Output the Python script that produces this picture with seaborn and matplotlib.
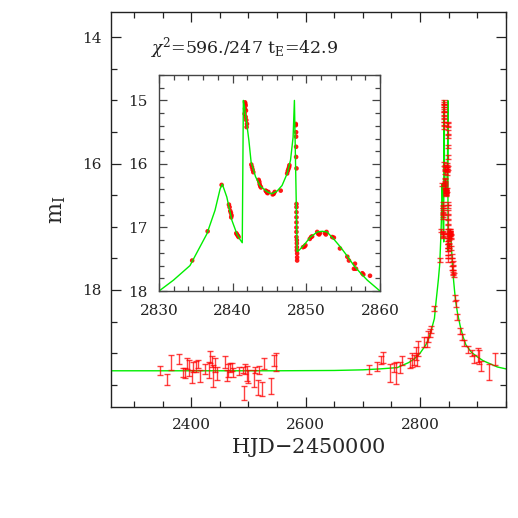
import numpy as np
import pandas as pd
import matplotlib
matplotlib.use("Agg")
import matplotlib.pyplot as plt
from matplotlib.ticker import MultipleLocator
import seaborn as sns

# --- DATA ---
# baseline season, I-band mags with error bars
base_hjd = [2345, 2357, 2365, 2379, 2386, 2390, 2393, 2397, 2401, 2404, 2408, 2412, 2415,
            2425, 2432, 2433, 2436, 2439, 2442, 2446, 2460, 2462, 2465, 2468, 2471, 2473,
            2484, 2490, 2492, 2494, 2497, 2500, 2509, 2512, 2516, 2519, 2523, 2528, 2539,
            2544, 2549]
base_mag = [19.28, 19.42, 19.15, 19.10, 19.31, 19.32, 19.17, 19.24, 19.37, 19.22, 19.21, 19.17,
            19.36, 19.25, 19.27, 19.06, 19.13, 19.36, 19.19, 19.32, 19.14, 19.35, 19.27, 19.23,
            19.22, 19.31, 19.28, 19.27, 19.63, 19.25, 19.32, 19.37, 19.40, 19.27, 19.54, 19.27,
            19.57, 19.17, 19.52, 19.12, 19.14]
base_err = [0.069, 0.084, 0.113, 0.079, 0.074, 0.079, 0.087, 0.13, 0.105, 0.074, 0.09, 0.06,
            0.098, 0.082, 0.13, 0.092, 0.084, 0.17, 0.116, 0.105, 0.09, 0.09, 0.105, 0.066,
            0.07, 0.07, 0.06, 0.053, 0.105, 0.074, 0.12, 0.105, 0.137, 0.053, 0.116, 0.066,
            0.105, 0.087, 0.12, 0.082, 0.137]

# rising and falling wings
wing_hjd = [2710, 2725, 2731, 2735, 2747, 2754, 2758, 2764, 2769, 2783, 2786, 2789, 2792,
            2795, 2796, 2807, 2812, 2814, 2817, 2819, 2825,
            2861, 2862, 2865, 2870, 2873, 2877, 2884, 2891, 2894, 2901, 2903, 2906, 2920, 2931]
wing_mag = [19.26, 19.21, 19.11, 19.07, 19.32, 19.23, 19.32, 19.23, 19.12, 19.16, 19.11, 19.11,
            19.01, 19.10, 18.93, 18.82, 18.82, 18.73, 18.68, 18.63, 18.30,
            18.13, 18.21, 18.43, 18.65, 18.74, 18.84, 18.94, 19.00, 19.09, 19.03, 19.06, 19.21,
            19.30, 19.09]
wing_err = [0.066, 0.07, 0.063, 0.087, 0.14, 0.066, 0.175, 0.084, 0.074, 0.08, 0.105, 0.08,
            0.105, 0.1, 0.116, 0.08, 0.08, 0.087, 0.058, 0.058, 0.04,
            0.053, 0.053, 0.047, 0.04, 0.047, 0.053, 0.053, 0.053, 0.066, 0.105, 0.105, 0.08,
            0.13, 0.092]

# caustic crossing points (shown in the inset)
peak_hjd = [2834.5, 2836.6, 2838.5,
            2839.49, 2839.58, 2839.67, 2839.76, 2839.85, 2839.80,
            2840.49, 2840.58, 2840.71, 2840.80,
            2841.67, 2841.71, 2841.76, 2841.67, 2841.80, 2841.62, 2841.76, 2841.85, 2841.94, 2841.89,
            2842.53, 2842.62, 2842.71, 2842.80,
            2843.53, 2843.62, 2843.66, 2843.75, 2843.84,
            2844.48, 2844.57, 2844.66, 2844.75, 2844.84,
            2845.43, 2845.57, 2845.71, 2846.52,
            2847.39, 2847.48, 2847.57, 2847.66, 2847.70,
            2848.57, 2848.57, 2848.61, 2848.61, 2848.61, 2848.61, 2848.66, 2848.66, 2848.66,
            2848.66, 2848.66, 2848.66, 2848.66, 2848.66, 2848.66, 2848.71, 2848.71, 2848.71,
            2848.71, 2848.75, 2848.75, 2848.75,
            2849.56, 2849.75, 2849.88, 2850.47, 2850.65, 2850.79,
            2851.47, 2851.61, 2851.74, 2851.83, 2852.51, 2852.65, 2852.74,
            2853.51, 2853.74, 2854.56, 2855.56, 2855.78,
            2856.60, 2856.74, 2856.46, 2857.60, 2857.74, 2858.64]
peak_mag = [17.52, 17.06, 16.33,
            16.64, 16.68, 16.74, 16.77, 16.81, 16.84,
            17.09, 17.11, 17.13, 17.15,
            15.03, 15.05, 15.08, 15.13, 15.16, 15.21, 15.26, 15.31, 15.37, 15.42,
            16.01, 16.05, 16.09, 16.13,
            16.25, 16.28, 16.32, 16.35, 16.37,
            16.42, 16.43, 16.45, 16.46, 16.44,
            16.48, 16.47, 16.44, 16.42,
            16.15, 16.11, 16.08, 16.05, 16.02,
            15.37, 15.39, 15.50, 15.57, 15.73, 15.89, 16.07, 16.63, 16.68,
            16.76, 16.84, 16.92, 17.00, 17.07, 17.15, 17.20, 17.25, 17.31,
            17.36, 17.41, 17.47, 17.52,
            17.31, 17.30, 17.28, 17.18, 17.15, 17.14,
            17.07, 17.10, 17.11, 17.09, 17.09, 17.11, 17.07,
            17.15, 17.16, 17.33, 17.46, 17.52,
            17.57, 17.65, 17.65, 17.72, 17.74, 17.76]
peak_err = 0.03

# binary-lens model curve
model_hjd = [2260, 2400, 2550, 2650, 2700, 2730, 2760, 2780, 2790, 2800, 2810, 2815, 2820,
             2825, 2828, 2830, 2831.95, 2834.2, 2836.5, 2837.6, 2838.3, 2838.6, 2839.2,
             2839.9, 2840.6, 2841.0, 2841.3, 2841.45, 2841.6, 2841.85, 2842.2, 2842.5,
             2843.1, 2843.75, 2844.7, 2845.3, 2846.0, 2846.7, 2847.4, 2847.85, 2848.2,
             2848.38, 2848.75, 2849.0, 2849.65, 2850.56, 2851.5, 2852.15, 2852.8, 2853.7,
             2854.65, 2855.55, 2856.46, 2857.37, 2858.28, 2860, 2862, 2865, 2870, 2875,
             2880, 2890, 2900, 2910, 2920, 2935, 2950]
model_mag = [19.28, 19.28, 19.28, 19.275, 19.265, 19.25, 19.23, 19.15, 19.09, 19.0, 18.87,
             18.77, 18.62, 18.45, 18.17, 18.0, 17.83, 17.6, 17.1, 16.73, 16.39, 16.32, 16.52,
             16.89, 17.11, 17.19, 17.24, 15.0, 15.1, 15.31, 15.63, 15.97,
             16.2, 16.35, 16.44, 16.47, 16.43, 16.34, 16.15, 15.94, 15.58,
             15.0, 17.38, 17.36, 17.28, 17.15, 17.07, 17.06, 17.07, 17.18,
             17.31, 17.45, 17.6, 17.72, 17.83, 18.0, 18.17, 18.35, 18.57, 18.74,
             18.87, 18.99, 19.06, 19.12, 19.16, 19.22, 19.25]

model = pd.DataFrame({'hjd': model_hjd, 'mag': model_mag})
peak = pd.DataFrame({'hjd': peak_hjd, 'mag': peak_mag})

# --- STYLE ---
sns.set_style('ticks')
plt.rcParams['font.family'] = ['DejaVu Serif']
plt.rcParams['mathtext.fontset'] = 'dejavuserif'
plt.rcParams['text.color'] = '#222222'

fig = plt.figure(figsize=(5.18, 5.18), dpi=100)
fig.patch.set_facecolor('white')

def style_axes(ax, major, minor, color, fs, pad):
    ax.tick_params(which='both', direction='in', top=True, right=True,
                   colors=color, labelcolor='#222222', labelsize=fs, pad=pad, width=0.9)
    ax.tick_params(which='major', length=major)
    ax.tick_params(which='minor', length=minor)
    for sp in ax.spines.values():
        sp.set_color(color)
        sp.set_linewidth(1.0)

# --- MAIN PANEL ---
ax = fig.add_axes([0.2143, 0.2147, 0.7625, 0.7621])
ax.set_facecolor('white')
sns.lineplot(data=model, x='hjd', y='mag', ax=ax, color='#00ee00', lw=1.0,
             estimator=None, sort=False)
err_kw = dict(fmt='none', ecolor='red', elinewidth=1.0, capsize=2, capthick=1.0, alpha=0.75)
ax.errorbar(base_hjd, base_mag, yerr=base_err, **err_kw)
ax.errorbar(wing_hjd, wing_mag, yerr=wing_err, **err_kw)
ax.errorbar(peak_hjd, peak_mag, yerr=peak_err, **err_kw)

ax.set_xlim(2260, 2950)
ax.set_ylim(19.85, 13.6)
ax.xaxis.set_major_locator(MultipleLocator(200))
ax.xaxis.set_minor_locator(MultipleLocator(50))
ax.yaxis.set_major_locator(MultipleLocator(2))
ax.yaxis.set_minor_locator(MultipleLocator(0.5))
style_axes(ax, 7.5, 4.5, '#222222', 11, 7)
ax.tick_params(axis='x', pad=8)
ax.set_xlabel('HJD$-$2450000', fontsize=15)
ax.set_ylabel(r'm$_{\rm I}$', fontsize=16)
ax.xaxis.set_label_coords(0.5, -0.075)
ax.yaxis.set_label_coords(-0.11, 0.5)
ax.text(0.099, 0.895, r'$\chi^2$=596./247 t$_{\rm E}$=42.9', transform=ax.transAxes,
        fontsize=12.5, va='baseline', ha='left')

# --- INSET: caustic crossings ---
axi = fig.add_axes([0.307, 0.4382, 0.4266, 0.417])
axi.set_facecolor('white')
sns.lineplot(data=model, x='hjd', y='mag', ax=axi, color='#00ee00', lw=1.0,
             estimator=None, sort=False)
sns.scatterplot(data=peak, x='hjd', y='mag', ax=axi, color='red', marker='o', s=11,
                edgecolor='none', alpha=0.9)
axi.set_xlim(2830, 2860)
axi.set_ylim(18, 14.6)
axi.xaxis.set_major_locator(MultipleLocator(10))
axi.xaxis.set_minor_locator(MultipleLocator(2))
axi.yaxis.set_major_locator(MultipleLocator(1))
axi.yaxis.set_minor_locator(MultipleLocator(0.2))
style_axes(axi, 5.5, 3.5, '#444444', 11, 8)
axi.tick_params(axis='x', pad=9)
axi.set_xlabel('')
axi.set_ylabel('')

fig.savefig('out.png', dpi=100, facecolor='white')
